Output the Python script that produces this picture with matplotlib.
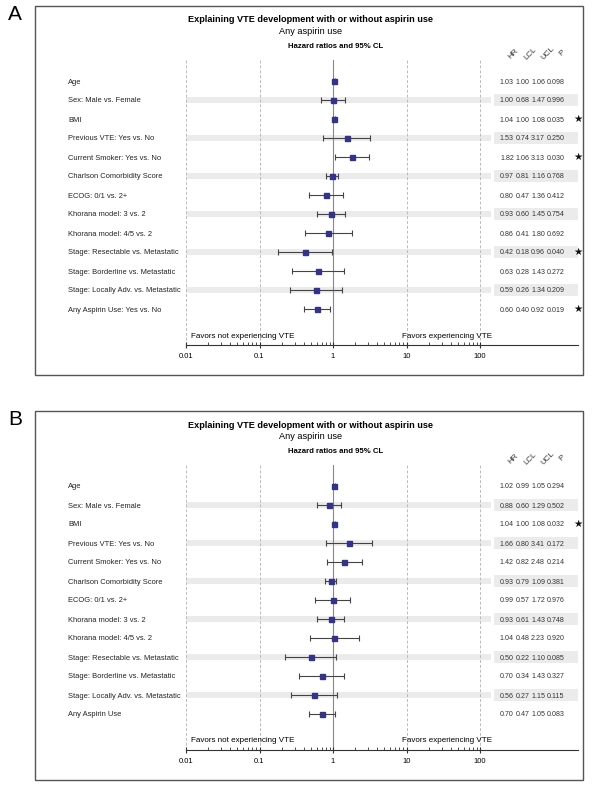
import numpy as np
import matplotlib
matplotlib.use('Agg')
import matplotlib.pyplot as plt
from matplotlib.patches import Rectangle
from matplotlib.ticker import FixedLocator, NullFormatter

plt.rcParams['font.family'] = ['Liberation Sans', 'DejaVu Sans']

# Données
labels_a = ['Age', 'Sex: Male vs. Female', 'BMI', 'Previous VTE: Yes vs. No',
            'Current Smoker: Yes vs. No', 'Charlson Comorbidity Score',
            'ECOG: 0/1 vs. 2+', 'Khorana model: 3 vs. 2', 'Khorana model: 4/5 vs. 2',
            'Stage: Resectable vs. Metastatic', 'Stage: Borderline vs. Metastatic',
            'Stage: Locally Adv. vs. Metastatic', 'Any Aspirin Use: Yes vs. No']
labels_b = labels_a[:-1] + ['Any Aspirin Use']

hr_a = [1.03, 1.00, 1.04, 1.53, 1.82, 0.97, 0.80, 0.93, 0.86, 0.42, 0.63, 0.59, 0.60]
lcl_a = [1.00, 0.68, 1.00, 0.74, 1.06, 0.81, 0.47, 0.60, 0.41, 0.18, 0.28, 0.26, 0.40]
ucl_a = [1.06, 1.47, 1.08, 3.17, 3.13, 1.16, 1.36, 1.45, 1.80, 0.96, 1.43, 1.34, 0.92]
p_a = ['0.098', '0.996', '0.035', '0.250', '0.030', '0.768', '0.412', '0.754',
       '0.692', '0.040', '0.272', '0.209', '0.019']

hr_b = [1.02, 0.88, 1.04, 1.66, 1.42, 0.93, 0.99, 0.93, 1.04, 0.50, 0.70, 0.56, 0.70]
lcl_b = [0.99, 0.60, 1.00, 0.80, 0.82, 0.79, 0.57, 0.61, 0.48, 0.22, 0.34, 0.27, 0.47]
ucl_b = [1.05, 1.29, 1.08, 3.41, 2.48, 1.09, 1.72, 1.43, 2.23, 1.10, 1.43, 1.15, 1.05]
p_b = ['0.294', '0.502', '0.032', '0.172', '0.214', '0.381', '0.976', '0.748',
       '0.920', '0.085', '0.327', '0.115', '0.083']

W, H = 594, 800
fig = plt.figure(figsize=(5.94, 8), dpi=100)

X0, X1 = 186, 578  # pixels de 0.01 et de la fin de l'axe
DEC = 73.5        # pixels par décade


def fx(px):
    return px / W


def fy(py):
    return 1 - py / H


def ax_x(px):
    return (px - X0) / (X1 - X0)


def draw_panel(off, letter, labels, hr, lcl, ucl, pv):
    # cadre
    fig.patches.append(Rectangle((fx(35), fy(375 + off)), fx(583) - fx(35), fy(6) - fy(375),
                                 transform=fig.transFigure, fill=False,
                                 edgecolor='#555555', lw=1.0))
    fig.text(fx(8), fy(14 + off), letter, fontsize=15, ha='left', va='center')
    fig.text(fx(311), fy(20 + off), 'Explaining VTE development with or without aspirin use',
             fontsize=6.6, fontweight='bold', ha='center', va='center')
    fig.text(fx(311), fy(31 + off), 'Any aspirin use', fontsize=6.6, ha='center', va='center')
    fig.text(fx(336), fy(47 + off), 'Hazard ratios and 95% CL', fontsize=5.6,
             fontweight='bold', ha='center', va='center')

    ax = fig.add_axes([fx(X0), fy(345 + off), fx(X1) - fx(X0), (345 - 60) / H])
    ax.set_xscale('log')
    xmax = 10 ** ((X1 - X0) / DEC - 2)
    ax.set_xlim(0.01, xmax)
    n = len(labels)
    rows = np.arange(n)
    ax.set_ylim(12 + 36 / 19, -21 / 19)
    ax.set_yticks([])
    for s in ['top', 'left', 'right']:
        ax.spines[s].set_visible(False)
    ax.spines['bottom'].set_color('#333333')
    ax.spines['bottom'].set_linewidth(0.8)

    tr = ax.get_yaxis_transform()
    for i in rows:
        if i % 2 == 1:
            ax.fill_between([0.01, 10 ** 2.15], i - 0.17, i + 0.17, color='#ebebeb', lw=0, zorder=0)
            ax.add_patch(Rectangle((ax_x(494), i - 0.3), ax_x(578) - ax_x(494), 0.6,
                                   transform=tr, color='#ebebeb', lw=0, zorder=0))

    for v in [0.01, 0.1, 10, 100]:
        ax.axvline(v, color='#bbbbbb', ls=(0, (3, 2)), lw=0.7, zorder=1)
    ax.axvline(1, color='#888888', lw=0.8, zorder=1)

    hr = np.array(hr)
    err = [hr - np.array(lcl), np.array(ucl) - hr]
    ax.errorbar(hr, rows, xerr=err, fmt='s', color='#333388', ms=3.6,
                ecolor='#444444', elinewidth=0.8, capsize=2.5, capthick=0.8, zorder=3)

    for i, lab in enumerate(labels):
        ax.text(ax_x(68), i, lab, transform=tr, fontsize=5.4, ha='left',
                va='center_baseline', color='#222222')
        ax.text(ax_x(514), i, f'{hr[i]:.2f}', transform=tr, fontsize=5.1, ha='right',
                va='center_baseline', color='#333333')
        ax.text(ax_x(530), i, f'{lcl[i]:.2f}', transform=tr, fontsize=5.1, ha='right',
                va='center_baseline', color='#333333')
        ax.text(ax_x(545), i, f'{ucl[i]:.2f}', transform=tr, fontsize=5.1, ha='right',
                va='center_baseline', color='#333333')
        ax.text(ax_x(547), i, pv[i], transform=tr, fontsize=5.1, ha='left',
                va='center_baseline', color='#333333')
        if float(pv[i]) < 0.05:
            ax.text(ax_x(578), i, '★', transform=tr, fontsize=7.5, ha='center',
                    va='center', color='#111111', family=['DejaVu Sans'])

    for lab, px in zip(['HR', 'LCL', 'UCL', 'P'], [513, 530, 548, 562]):
        ax.text(ax_x(px), -1.45, lab, transform=tr, fontsize=5.8, rotation=45,
                ha='center', va='center', color='#333333')

    ax.text(ax_x(243), 12 + 27 / 19, 'Favors not experiencing VTE', transform=tr,
            fontsize=5.8, ha='center', va='center')
    ax.text(ax_x(447), 12 + 27 / 19, 'Favors experiencing VTE', transform=tr,
            fontsize=5.8, ha='center', va='center')

    ax.xaxis.set_major_locator(FixedLocator([0.01, 0.1, 1, 10, 100]))
    ax.set_xticklabels(['0.01', '0.1', '1', '10', '100'])
    minors = [m * 10.0 ** e for e in range(-2, 2) for m in range(2, 10)]
    ax.xaxis.set_minor_locator(FixedLocator(minors))
    ax.xaxis.set_minor_formatter(NullFormatter())
    ax.tick_params(axis='x', which='major', direction='inout', length=5, width=0.8,
                   labelsize=5.5, pad=3, color='#333333')
    ax.tick_params(axis='x', which='minor', direction='in', length=2.5, width=0.6,
                   color='#333333')
    return ax


draw_panel(0, 'A', labels_a, hr_a, lcl_a, ucl_a, p_a)
draw_panel(405, 'B', labels_b, hr_b, lcl_b, ucl_b, p_b)

plt.savefig('out.png', dpi=100)
